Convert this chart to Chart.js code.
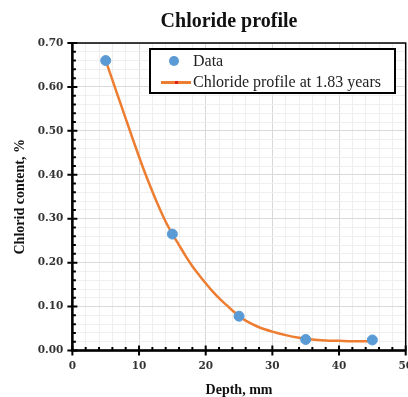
<!DOCTYPE html>
<html>
<head>
<meta charset="utf-8">
<script src="https://cdn.jsdelivr.net/npm/chart.js@4/dist/chart.umd.min.js"></script>
<style>
  html, body { margin: 0; padding: 0; background: #fff; overflow: hidden; }
  #wrap { position: relative; width: 424px; height: 397px; }
  #title {
    position: absolute; left: 129px; top: 9px; width: 200px; text-align: center;
    font-family: 'Liberation Serif', serif; font-size: 20px; font-weight: bold; color: #111;
  }
  #legend {
    position: absolute; left: 149px; top: 48px; width: 243px; height: 42px;
    border: 2px solid #000; background: #fff;
    font-family: 'Liberation Serif', serif; font-size: 16px; color: #222;
  }
  #legend .row { position: absolute; left: 0; height: 20px; line-height: 20px; }
  #legend .dot { position: absolute; left: 18px; top: 5px; width: 10px; height: 10px; border-radius: 50%; background: #5b9bd5; }
  #legend .ln { position: absolute; left: 10px; top: 9px; width: 30px; height: 3px; background: #ed7d31; }
  #legend .ln i { position: absolute; left: 14px; top: 0; width: 3px; height: 3px; background: #e0201b; }
  #legend .txt { position: absolute; left: 42px; white-space: nowrap; }
</style>
</head>
<body>
<div id="wrap">
  <canvas id="chart" width="424" height="397"></canvas>
  <div id="title">Chloride profile</div>
  <div id="legend">
    <div class="row" style="top:1px"><span class="dot"></span><span class="txt">Data</span></div>
    <div class="row" style="top:22px"><span class="ln"><i></i></span><span class="txt">Chloride profile at 1.83 years</span></div>
  </div>
</div>
<script>
// measured data
const depth = [5, 15, 25, 35, 45];
const chloride = [0.66, 0.265, 0.078, 0.025, 0.024];

// fitted profile
const profileDepth = [5, 6, 7, 8, 9, 10, 11, 12, 13, 14, 15, 16, 17, 18, 19, 20, 21, 22, 23, 24, 25, 26, 27, 28, 30, 32, 34, 36, 38, 40, 42, 45];
const profileValue = [0.66, 0.616, 0.572, 0.528, 0.484, 0.441, 0.400, 0.362, 0.326, 0.293, 0.265, 0.240, 0.215, 0.192, 0.172, 0.153, 0.135, 0.119, 0.105, 0.091, 0.079, 0.068, 0.060, 0.053, 0.043, 0.035, 0.029, 0.025, 0.023, 0.022, 0.021, 0.021];

const isMajorY = v => Math.round(v * 100) % 10 === 0;
const isMajorX = v => Math.round(v) % 10 === 0;

// axis frame + tick marks drawn over the chart area
const framePlugin = {
  id: 'frame',
  afterDatasetsDraw(chart) {
    const { ctx, chartArea: a, scales } = chart;
    ctx.save();
    ctx.strokeStyle = '#000';
    ctx.lineWidth = 1.5;
    ctx.strokeRect(a.left, a.top, a.right - a.left, a.bottom - a.top);
    ctx.lineWidth = 2.5;
    ctx.beginPath();
    ctx.moveTo(a.left, a.top); ctx.lineTo(a.left, a.bottom); ctx.lineTo(a.right, a.bottom);
    ctx.stroke();
    ctx.lineWidth = 2;
    ctx.beginPath();
    scales.y.ticks.forEach(t => {
      const y = scales.y.getPixelForValue(t.value);
      const maj = isMajorY(t.value);
      ctx.moveTo(a.left - (maj ? 5 : 0), y);
      ctx.lineTo(a.left + (maj ? 5 : 3.5), y);
    });
    scales.x.ticks.forEach(t => {
      const x = scales.x.getPixelForValue(t.value);
      const maj = isMajorX(t.value);
      ctx.moveTo(x, a.bottom + (maj ? 5 : 0));
      ctx.lineTo(x, a.bottom - (maj ? 5 : 3.5));
    });
    ctx.stroke();
    ctx.restore();
  }
};

const ctx = document.getElementById('chart').getContext('2d');
new Chart(ctx, {
  type: 'scatter',
  data: {
    datasets: [
      {
        label: 'Data',
        data: depth.map((d, i) => ({ x: d, y: chloride[i] })),
        backgroundColor: '#5b9bd5',
        borderColor: '#5b9bd5',
        pointRadius: 5,
        order: 0
      },
      {
        label: 'Chloride profile at 1.83 years',
        data: profileDepth.map((d, i) => ({ x: d, y: profileValue[i] })),
        showLine: true,
        borderColor: '#ed7d31',
        borderWidth: 2.5,
        pointRadius: 0,
        cubicInterpolationMode: 'monotone',
        order: 1
      }
    ]
  },
  options: {
    responsive: false,
    animation: false,
    layout: { padding: { top: 43, left: 8, right: 0, bottom: 0 } },
    plugins: {
      legend: { display: false },
      tooltip: { enabled: false }
    },
    scales: {
      x: {
        type: 'linear',
        min: 0,
        max: 50,
        border: { display: false },
        grid: {
          color: c => isMajorX(c.tick.value) ? '#d9d9d9' : '#efefef',
          drawTicks: false
        },
        ticks: {
          stepSize: 2,
          autoSkip: false,
          maxRotation: 0,
          padding: 11,
          color: '#333',
          font: { family: 'DejaVu Serif', size: 10.5, weight: 'bold', lineHeight: 1 },
          callback: v => isMajorX(v) ? String(v) : ''
        },
        title: {
          display: true,
          text: 'Depth, mm',
          color: '#111',
          font: { family: 'Liberation Serif', size: 14, weight: 'bold', lineHeight: 1 },
          padding: { top: 0, bottom: 0 }
        }
      },
      y: {
        min: 0,
        max: 0.7,
        border: { display: false },
        grid: {
          color: c => isMajorY(c.tick.value) ? '#d9d9d9' : '#efefef',
          drawTicks: false
        },
        ticks: {
          stepSize: 0.02,
          autoSkip: false,
          padding: 9,
          color: '#333',
          font: { family: 'DejaVu Serif', size: 10.5, weight: 'bold' },
          callback: v => isMajorY(v) ? v.toFixed(2) : ''
        },
        title: {
          display: true,
          text: 'Chlorid content, %',
          color: '#111',
          font: { family: 'Liberation Serif', size: 14, weight: 'bold' },
          padding: { top: 4, bottom: 0 }
        }
      }
    }
  },
  plugins: [framePlugin]
});
</script>
</body>
</html>
